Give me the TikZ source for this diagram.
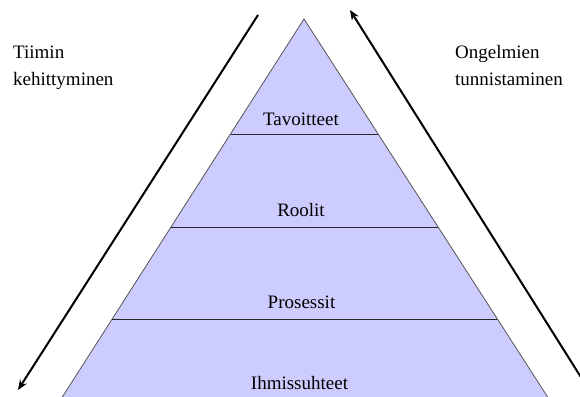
\documentclass[tikz,border=0pt]{standalone}
\usepackage{fontspec}
\setmainfont{Liberation Serif}
\usetikzlibrary{arrows.meta}
\definecolor{pyrfill}{HTML}{CCCCFF}
\definecolor{pyredge}{HTML}{555555}
\begin{document}
\begin{tikzpicture}[x=1pt,y=-1pt,
  lbl/.style={font=\rmfamily\fontsize{19}{27}\selectfont, inner sep=0pt},
  sidetext/.style={lbl, align=left, anchor=base west},
  layertext/.style={lbl, anchor=base},
  sep/.style={draw=black!85, line width=0.9pt},
  bigarrow/.style={draw=black, line width=2pt, -{Stealth[length=10pt,width=8pt]}}]
\useasboundingbox (0,0) rectangle (580,396);
\clip (0,0) rectangle (580,396);
% pyramid
\coordinate (apex) at (304,19);
\coordinate (bl) at (60.4,400);
\coordinate (br) at (549.6,400);
\fill[pyrfill] (apex) -- (br) -- (bl) -- cycle;
\draw[pyredge, line width=0.8pt] (bl) -- (apex) -- (br);
% separators
\coordinate (s1l) at (230.5,134); \coordinate (s1r) at (378.1,134);
\coordinate (s2l) at (171.0,227); \coordinate (s2r) at (438.1,227);
\coordinate (s3l) at (112.2,319); \coordinate (s3r) at (497.4,319);
\draw[sep] (s1l) -- (s1r);
\draw[sep] (s2l) -- (s2r);
\draw[sep] (s3l) -- (s3r);
% layer labels
\node[layertext] (tav) at (301,125) {Tavoitteet};
\node[layertext] (roo) at (301,216) {Roolit};
\node[layertext] (pro) at (301.5,308) {Prosessit};
\node[layertext] (ihm) at (299.5,389) {Ihmissuhteet};
% side labels (base = baseline of last line)
\node[sidetext] (tiimi) at (13,85) {Tiimin\\kehittyminen};
\node[sidetext] (ongel) at (455,85) {Ongelmien\\tunnistaminen};
% arrows
\coordinate (la1) at (258,15);
\coordinate (la2) at (18,390);
\draw[bigarrow] (la1) -- (la2);
\coordinate (ra1) at (594,398);
\coordinate (ra2) at (350,10);
\draw[bigarrow] (ra1) -- (ra2);
\end{tikzpicture}
\end{document}
